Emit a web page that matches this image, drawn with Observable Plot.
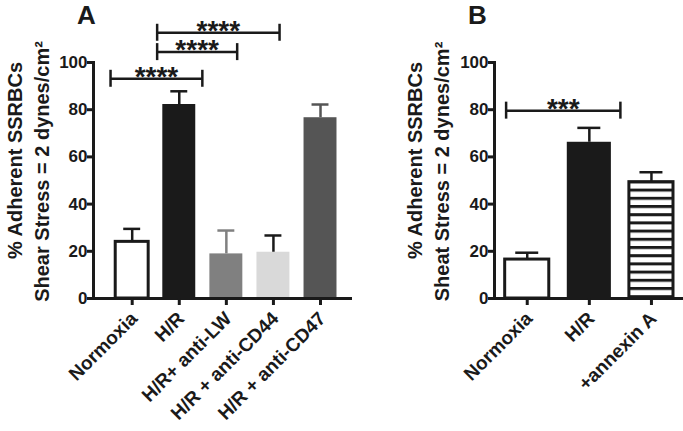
<!DOCTYPE html>
<html><head><meta charset="utf-8">
<script src="https://cdn.jsdelivr.net/npm/d3@7"></script>
<script src="https://cdn.jsdelivr.net/npm/@observablehq/plot@0.6"></script>
<style>
body{margin:0;background:#fff;}
#wrap{position:relative;width:683px;height:431px;overflow:hidden;font-family:"Liberation Sans",Arial,sans-serif;font-weight:bold;}
.panel{position:absolute;top:0;}
.lab{position:absolute;top:2px;font-size:26px;font-weight:bold;line-height:1;color:#1a1a1a;}
</style></head><body>
<div id="wrap">
  <div class="panel" id="pA" style="left:0"></div>
  <div class="panel" id="pB" style="left:400px"></div>
  <div class="lab" style="left:77px">A</div>
  <div class="lab" style="left:468px">B</div>
</div>
<script>
// ---------- data ----------
const catsA = ["Normoxia", "H/R", "H/R+ anti-LW", "H/R + anti-CD44", "H/R + anti-CD47"];
const meanA = [24, 82.2, 18.9, 19.6, 76.6];
const errA  = [5.5, 5.6, 9.9, 7.1, 5.6];
const fillA = ["#ffffff", "#1a1a1a", "#808080", "#d9d9d9", "#555555"];
const strokeA = ["#1a1a1a", "none", "none", "none", "none"];
const errColorA = ["#1a1a1a", "#1a1a1a", "#808080", "#1a1a1a", "#555555"];
const sigFromA = [-0.46, 0.53, 0.53];
const sigToA   = [1.49, 2.23, 3.13];
const sigYA    = [93.1, 104.4, 112.6];
const sigLabA  = ["****", "****", "****"];

const catsB = ["Normoxia", "H/R", "+annexin A"];
const meanB = [16.5, 66.2, 49.3];
const errB  = [2.9, 6.1, 4.2];
const fillB = ["#ffffff", "#1a1a1a", "url(#hstripes)"];
const strokeB = ["#1a1a1a", "none", "#1a1a1a"];
const errColorB = ["#1a1a1a", "#1a1a1a", "#1a1a1a"];
const sigFromB = [-0.34];
const sigToB   = [1.5];
const sigYB    = [79.6];
const sigLabB  = ["***"];

const yTicks = [0, 20, 40, 60, 80, 100];
const yLabel1 = "% Adherent SSRBCs";
const yLabel2A = "Shear Stress = 2 dynes/cm\u00B2";
const yLabel2B = "Sheat Stress = 2 dynes/cm\u00B2";

const FONT = "Liberation Sans, Arial, sans-serif";
const INK = "#1a1a1a";

function panel({cats, mean, err, fill, stroke, errColor, sigFrom, sigTo, sigY, sigLab, label2,
                width, marginLeft, marginRight, xDomain, barHalf, capHalf}) {
  const bars = cats.map((c, i) => ({i, c, v: mean[i], e: mean[i] + err[i], fill: fill[i], stroke: stroke[i], ec: errColor[i]}));
  const sigs = sigY.map((y, k) => ({x1: sigFrom[k], x2: sigTo[k], y, lab: sigLab[k], xm: (sigFrom[k] + sigTo[k]) / 2}));
  const capH = 3.6;
  return Plot.plot({
    width, height: 431,
    marginLeft, marginRight, marginTop: 62, marginBottom: 133,
    style: {fontFamily: FONT, fontWeight: "bold", overflow: "visible", background: "transparent", color: INK, fontSize: "16px"},
    x: {domain: xDomain, axis: null},
    y: {domain: [0, 100], axis: null},
    color: {type: "identity"},
    marks: [
      Plot.rectY(bars, {x1: d => d.i - barHalf, x2: d => d.i + barHalf, y1: 0, y2: "v",
        fill: "fill", stroke: "stroke", strokeWidth: 3}),
      Plot.ruleX(bars, {x: "i", y1: "v", y2: "e", stroke: "ec", strokeWidth: 2.5}),
      Plot.ruleY(bars, {y: "e", x1: d => d.i - capHalf, x2: d => d.i + capHalf, stroke: "ec", strokeWidth: 2.5}),
      Plot.frame({anchor: "left", stroke: INK, strokeWidth: 3}),
      Plot.frame({anchor: "bottom", stroke: INK, strokeWidth: 3, strokeLinecap: "square"}),
      // y ticks + labels
      Plot.axisY(yTicks, {tickSize: 6, tickFormat: () => "", strokeWidth: 3, stroke: INK, label: null}),
      Plot.text(yTicks, {y: d => d, text: d => String(d), frameAnchor: "left", textAnchor: "end", lineAnchor: "middle",
        dx: -6, fontSize: 17, fontWeight: "bold", fill: INK}),
      // x ticks + rotated labels
      Plot.axisX(bars.map(d => d.i), {tickSize: 7, tickFormat: () => "", strokeWidth: 3, stroke: INK, label: null}),
      Plot.text(bars, {x: "i", text: "c", frameAnchor: "bottom", rotate: -45, textAnchor: "end", lineAnchor: "middle",
        dx: 2, dy: 17, fontSize: 19, fontWeight: "bold", fill: INK}),
      // significance brackets
      Plot.ruleY(sigs, {y: "y", x1: "x1", x2: "x2", stroke: INK, strokeWidth: 2.5}),
      Plot.ruleX(sigs, {x: "x1", y1: d => d.y - capH, y2: d => d.y + capH, stroke: INK, strokeWidth: 2.5}),
      Plot.ruleX(sigs, {x: "x2", y1: d => d.y - capH, y2: d => d.y + capH, stroke: INK, strokeWidth: 2.5}),
      Plot.text(sigs, {x: "xm", y: "y", text: "lab", lineAnchor: "bottom", dy: 7, fontSize: 28, fontWeight: "bold", fill: INK}),
      // y-axis title (two lines)
      Plot.text([yLabel1], {frameAnchor: "left", textAnchor: "middle", lineAnchor: "middle", rotate: -90, dx: -(marginLeft - 15), dy: -20, fontSize: 20, fontWeight: "bold", fill: INK}),
      Plot.text([label2], {frameAnchor: "left", textAnchor: "middle", lineAnchor: "middle", rotate: -90, dx: -(marginLeft - 42), dy: -9, fontSize: 20, fontWeight: "bold", fill: INK})
    ]
  });
}

const svgA = panel({cats: catsA, mean: meanA, err: errA, fill: fillA, stroke: strokeA, errColor: errColorA,
  sigFrom: sigFromA, sigTo: sigToA, sigY: sigYA, sigLab: sigLabA, label2: yLabel2A,
  width: 400, marginLeft: 93, marginRight: 50, xDomain: [-0.822, 4.637], barHalf: 0.35, capHalf: 0.18});
document.getElementById("pA").append(svgA);

const svgB = panel({cats: catsB, mean: meanB, err: errB, fill: fillB, stroke: strokeB, errColor: errColorB,
  sigFrom: sigFromB, sigTo: sigToB, sigY: sigYB, sigLab: sigLabB, label2: yLabel2B,
  width: 283, marginLeft: 94, marginRight: 1, xDomain: [-0.527, 2.5], barHalf: 0.355, capHalf: 0.185});
// stripe pattern for "+annexin A"
const defs = d3.select(svgB).insert("defs", ":first-child");
const pat = defs.append("pattern").attr("id", "hstripes").attr("patternUnits", "userSpaceOnUse")
  .attr("width", 8).attr("height", 8.2);
pat.append("rect").attr("width", 8).attr("height", 8.2).attr("fill", "#fff");
pat.append("rect").attr("y", 0).attr("width", 8).attr("height", 3).attr("fill", INK);
document.getElementById("pB").append(svgB);
</script>
</body></html>
